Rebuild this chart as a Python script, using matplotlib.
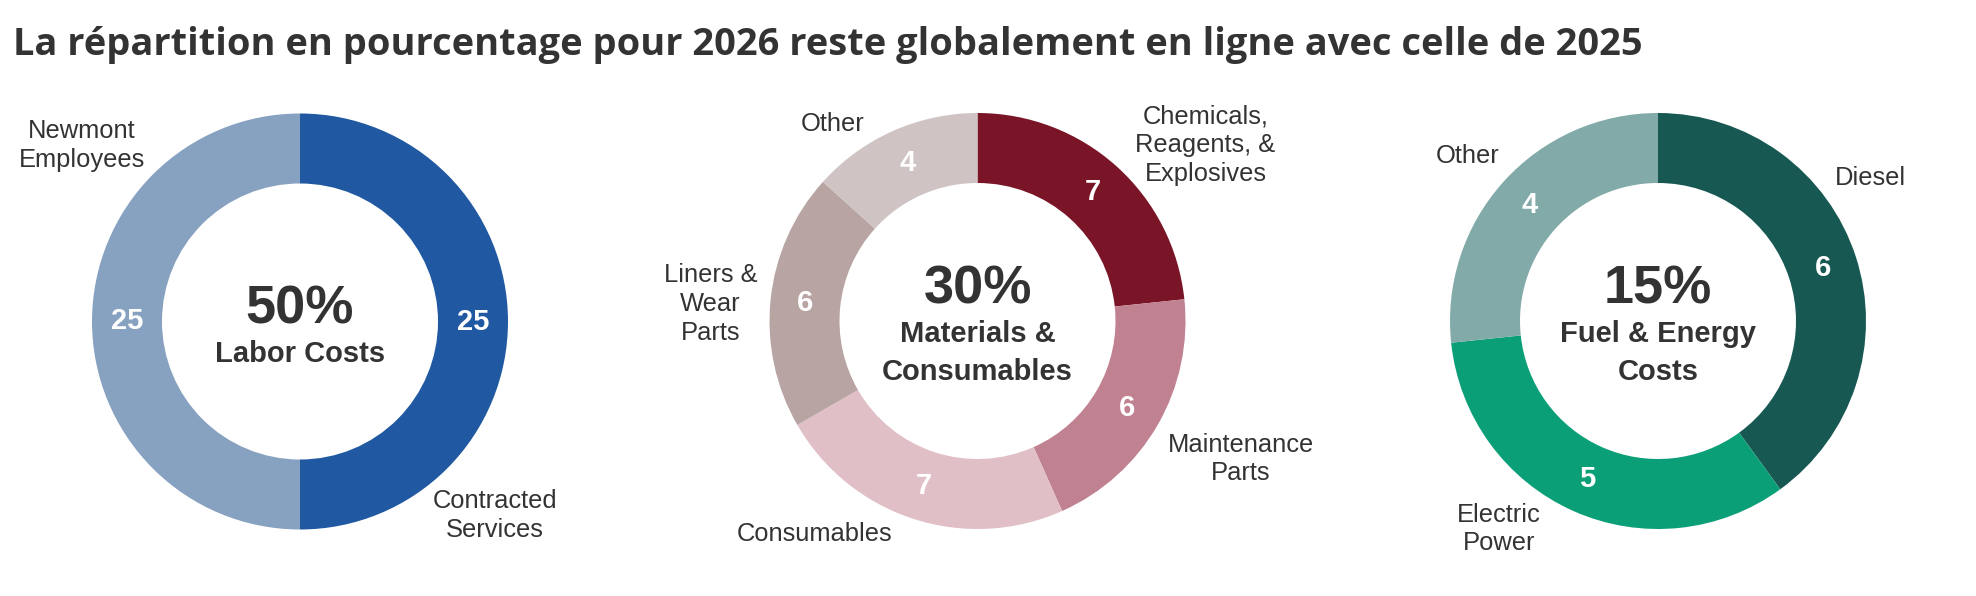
import matplotlib
matplotlib.use("Agg")
import matplotlib.pyplot as plt

W, H = 1976, 596
TEXT = "#333333"

title = "La répartition en pourcentage pour 2026 reste globalement en ligne avec celle de 2025"

# %%
# Data
labor_labels = ["Contracted\nServices", "Newmont\nEmployees"]
labor_values = [25, 25]
labor_colors = ["#2059A1", "#87A1C0"]

materials_labels = ["Chemicals,\nReagents, &\nExplosives", "Maintenance\nParts",
                    "Consumables", "Liners &\nWear\nParts", "Other"]
materials_values = [7, 6, 7, 6, 4]
materials_colors = ["#7A1528", "#C08191", "#E1BFC6", "#B8A5A3", "#CFC4C3"]

fuel_labels = ["Diesel", "Electric\nPower", "Other"]
fuel_values = [6, 5, 4]
fuel_colors = ["#185852", "#0B9F78", "#82AAA9"]

center_pct = ["50%", "30%", "15%"]
center_names = [["Labor Costs"], ["Materials &", "Consumables"], ["Fuel & Energy", "Costs"]]

# %%
# Layout (pixels, y measured downwards from the top)
centers = [(300, 321.5), (977.5, 321), (1658, 321)]
R_OUT, RING = 208, 70
label_offsets = [
    [(195, 194), (-218, -176)],
    [(228, -176), (263, 138), (-163, 213), (-267, -17), (-145, -197)],
    [(212, -143), (-159, 208), (-190, -165)],
]

fig = plt.figure(figsize=(W / 100, H / 100), dpi=100)
ax = fig.add_axes([0, 0, 1, 1])

charts = [
    (labor_labels, labor_values, labor_colors),
    (materials_labels, materials_values, materials_colors),
    (fuel_labels, fuel_values, fuel_colors),
]

for i, (labels, values, colors) in enumerate(charts):
    cx, cy = centers[i]
    total = sum(values)
    ax.pie(
        values,
        colors=colors,
        radius=R_OUT,
        center=(cx, H - cy),
        startangle=90,
        counterclock=False,
        wedgeprops=dict(width=RING, linewidth=0),
        autopct=lambda p, t=total: f"{p * t / 100:.0f}",
        pctdistance=(R_OUT - RING / 2) / R_OUT,
        textprops=dict(color="white", fontsize=21, fontweight="bold",
                       family="Liberation Sans"),
    )
    for lab, (dx, dy) in zip(labels, label_offsets[i]):
        ax.text(cx + dx, H - (cy + dy), lab, ha="center", va="center",
                fontsize=18.4, color=TEXT, family="Liberation Sans",
                linespacing=1.25)

    # centre text, vertically centred block
    k = len(center_names[i])
    y_pct = cy - 19 * (k - 1) + 1.5
    ax.text(cx, H - y_pct, center_pct[i], ha="center", va="baseline",
            fontsize=39, fontweight="bold", color=TEXT, family="Liberation Sans")
    for j, line in enumerate(center_names[i]):
        ax.text(cx, H - (y_pct + 38.5 * (j + 1)), line, ha="center", va="baseline",
                fontsize=21, fontweight="bold", color=TEXT, family="Liberation Sans")

ax.set_xlim(0, W)
ax.set_ylim(0, H)
ax.set_aspect("auto")
ax.axis("off")

fig.text(13 / W, 1 - 55 / H, title, ha="left", va="baseline", fontsize=27.4,
         fontweight="bold", color=TEXT, family="Open Sans")

fig.savefig("out.png", dpi=100)
